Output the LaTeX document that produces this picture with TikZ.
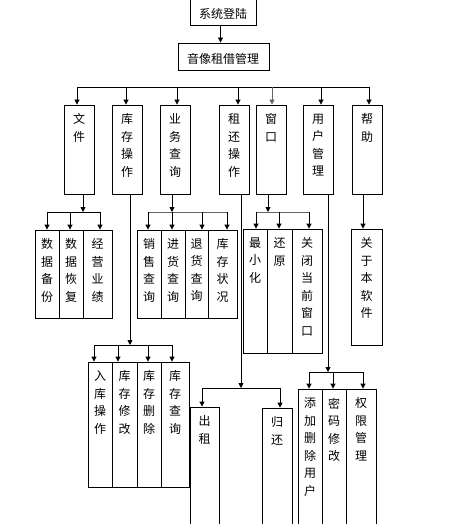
\documentclass[tikz,border=0pt]{standalone}
\usepackage{fontspec}
\newfontfamily\cjk{Noto Sans CJK SC}
\usetikzlibrary{arrows.meta}
\tikzset{
  box/.style={draw, line width=0.8pt, inner sep=0pt},
  vtext/.style={anchor=north, inner sep=0pt, align=center, font=\cjk\fontsize{12}{17.5}\selectfont, yshift=-9pt},
  htext/.style={inner sep=0pt, font=\cjk\fontsize{12}{15}\selectfont},
  arr/.style={line width=0.8pt, -{Triangle[length=5pt,width=5pt]}},
  ln/.style={line width=0.8pt},
  grayln/.style={draw=black!60}
}
% name, x1, y1, x2, y2, text
\newcommand\mkbox[6]{%
  \node[box, minimum width={#4-#2}, minimum height={#5-#3}] (#1) at ({(#2+#4)/2},{(#3+#5)/2}) {};%
  \node[vtext] (#1t) at (#1.north) {#6};}
\begin{document}
\begin{tikzpicture}[x=1pt,y=-1pt]
\fill[white] (0,0) rectangle (456,524);
\useasboundingbox (0,0) rectangle (456,524);
\clip (0,0) rectangle (456,524);

% top boxes
\node[box, minimum width=66, minimum height=27] (login) at (223.5,11.5) {};
\node[htext] (logint) at (223,14) {系统登陆};
\node[box, minimum width=91, minimum height=27] (mgmt) at (223.5,56.5) {};
\node[htext] (mgmtt) at (223,58.5) {音像租借管理};
\draw[arr] ([xshift=-3pt]login.south) -- ([xshift=-3pt]mgmt.north);

% level 1
\mkbox{wj}{64}{105}{94}{194}{文\\件}
\mkbox{kc}{112}{105}{142}{194}{库\\存\\操\\作}
\mkbox{yw}{160}{105}{190}{194}{业\\务\\查\\询}
\mkbox{zh}{219}{105}{249}{194}{租\\还\\操\\作}
\mkbox{ck}{256}{105}{286}{194}{窗\\口}
\mkbox{yh}{303}{105}{333}{194}{用\\户\\管\\理}
\mkbox{bz}{352}{105}{382}{194}{帮\\助}

% top bus
\coordinate (tb1) at (77,87);
\coordinate (tb2) at (126,87);
\coordinate (tb3) at (177,87);
\coordinate (tb4) at (238,87);
\coordinate (tb5) at (272,87);
\coordinate (tb6) at (321,87);
\coordinate (tb7) at (369,87);
\draw[ln] (tb1) -- (tb7);
\draw[arr] (tb1) -- (tb1 |- wj.north);
\draw[arr] (tb2) -- (tb2 |- kc.north);
\draw[arr] (tb3) -- (tb3 |- yw.north);
\draw[arr] (tb4) -- (tb4 |- zh.north);
\draw[arr, grayln] (tb5) -- (tb5 |- ck.north);
\draw[arr] (tb6) -- (tb6 |- yh.north);
\draw[arr] (tb7) -- (tb7 |- bz.north);

% under 文件
\mkbox{sjbf}{35}{230}{59}{318}{数\\据\\备\\份}
\mkbox{sjhf}{59}{230}{83}{318}{数\\据\\恢\\复}
\mkbox{jyyj}{83}{230}{112}{318}{经\\营\\业\\绩}
\coordinate (wjp) at (83,212);
\coordinate (wjb1) at (47,212);
\coordinate (wjb2) at (70,212);
\coordinate (wjb3) at (100,212);
\draw[arr] (wjp |- wj.south) -- (wjp);
\draw[ln] (wjb1) -- (wjb3);
\draw[arr] (wjb1) -- (wjb1 |- sjbf.north);
\draw[arr] (wjb2) -- (wjb2 |- sjhf.north);
\draw[arr] (wjb3) -- (wjb3 |- jyyj.north);

% under 业务查询
\mkbox{xscx}{137}{230}{161}{318}{销\\售\\查\\询}
\mkbox{jhcx}{161}{230}{185}{318}{进\\货\\查\\询}
\mkbox{thcx}{185}{230}{208}{318}{退\\货\\查\\询}
\mkbox{kczk}{208}{230}{237}{318}{库\\存\\状\\况}
\coordinate (ywp) at (172,212);
\coordinate (ywb1) at (148,212);
\coordinate (ywb3) at (202,212);
\coordinate (ywb4) at (227,212);
\draw[arr] (ywp |- yw.south) -- (ywp);
\draw[ln, grayln] (ywb1) -- (ywb4);
\draw[arr] (ywb1) -- (ywb1 |- xscx.north);
\draw[arr] (ywp) -- (ywp |- jhcx.north);
\draw[arr] (ywb3) -- (ywb3 |- thcx.north);
\draw[arr] (ywb4) -- (ywb4 |- kczk.north);

% under 窗口
\mkbox{zxh}{243}{229}{267}{353}{最\\小\\化}
\mkbox{hy}{267}{229}{292}{353}{还\\原}
\mkbox{gbdq}{292}{229}{322}{353}{关\\闭\\当\\前\\窗\\口}
\coordinate (ckp) at (268,212);
\coordinate (ckb1) at (256,212);
\coordinate (ckb2) at (279,212);
\coordinate (ckb3) at (309,212);
\draw[arr] (ckp |- ck.south) -- (ckp);
\draw[ln, grayln] (ckb1) -- (ckb3);
\draw[arr] (ckb1) -- (ckb1 |- zxh.north);
\draw[arr] (ckb2) -- (ckb2 |- hy.north);
\draw[arr] (ckb3) -- (ckb3 |- gbdq.north);

% under 帮助
\mkbox{gy}{351}{229}{382}{345}{关\\于\\本\\软\\件}
\coordinate (bzp) at (363,0);
\draw[arr] (bzp |- bz.south) -- (bzp |- gy.north);

% under 库存操作
\mkbox{rkcz}{88}{362}{112}{487}{入\\库\\操\\作}
\mkbox{kcxg}{112}{362}{137}{487}{库\\存\\修\\改}
\mkbox{kcsc}{137}{362}{161}{487}{库\\存\\删\\除}
\mkbox{kccx}{161}{362}{189}{487}{库\\存\\查\\询}
\coordinate (kcp) at (130,345);
\coordinate (kcb1) at (94,345);
\coordinate (kcb2) at (118,345);
\coordinate (kcb3) at (148,345);
\coordinate (kcb4) at (172,345);
\draw[arr] (kcp |- kc.south) -- (kcp);
\draw[ln] (kcb1) -- (kcb4);
\draw[arr] (kcb1) -- (kcb1 |- rkcz.north);
\draw[arr] (kcb2) -- (kcb2 |- kcxg.north);
\draw[arr] (kcb3) -- (kcb3 |- kcsc.north);
\draw[arr] (kcb4) -- (kcb4 |- kccx.north);

% under 租还操作
\mkbox{cz}{190}{407}{219}{540}{出\\租}
\mkbox{gh}{262}{408}{292}{540}{归\\还}
\coordinate (zhp) at (241,388);
\coordinate (zhb1) at (202,388);
\coordinate (zhb2) at (280,388);
\draw[arr] (zhp |- zh.south) -- (zhp);
\draw[ln] (zhb1) -- (zhb2);
\draw[arr] (zhb1) -- (zhb1 |- cz.north);
\draw[arr] (zhb2) -- (zhb2 |- gh.north);

% under 用户管理
\mkbox{tjsc}{298}{389}{322}{540}{添\\加\\删\\除\\用\\户}
\mkbox{mmxg}{322}{389}{346}{540}{密\\码\\修\\改}
\mkbox{qxgl}{346}{389}{376}{540}{权\\限\\管\\理}
\coordinate (yhp) at (328,372);
\coordinate (yhb1) at (309,372);
\coordinate (yhb2) at (333,372);
\coordinate (yhb3) at (363,372);
\draw[arr] (yhp |- yh.south) -- (yhp);
\draw[ln] (yhb1) -- (yhb3);
\draw[arr] (yhb1) -- (yhb1 |- tjsc.north);
\draw[arr] (yhb2) -- (yhb2 |- mmxg.north);
\draw[arr] (yhb3) -- (yhb3 |- qxgl.north);
\end{tikzpicture}
\end{document}
